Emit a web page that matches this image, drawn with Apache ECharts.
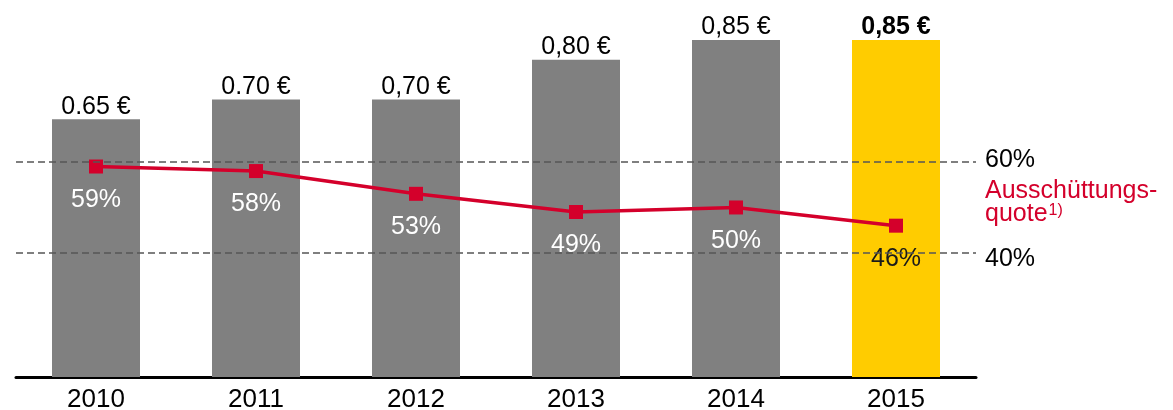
<!DOCTYPE html>
<html>
<head>
<meta charset="utf-8">
<script src="https://cdn.jsdelivr.net/npm/echarts@6/dist/echarts.min.js"></script>
<style>
    html, body { margin: 0; padding: 0; background: #fff; }
    #main { width: 1173px; height: 410px; }
</style>
</head>
<body>
<div id="main"></div>
<script>
// Daten
var years = ['2010', '2011', '2012', '2013', '2014', '2015'];
var dividend = [0.65, 0.70, 0.70, 0.80, 0.85, 0.85];
var dividendText = ['0.65 €', '0.70 €', '0,70 €', '0,80 €', '0,85 €', '0,85 €'];
var payout = [59, 58, 53, 49, 50, 46];
var payoutTicks = [60, 40];

var fontFam = 'Liberation Sans, Arial, sans-serif';
var red = '#d4002b';

var myChart = echarts.init(document.getElementById('main'));

var barData = dividend.map(function (v, i) {
    var last = i === dividend.length - 1;
    return {
        value: v,
        itemStyle: { color: last ? '#ffcc00' : '#808080' },
        label: { fontWeight: last ? 'bold' : 'normal' }
    };
});

var lineData = payout.map(function (v, i) {
    var last = i === payout.length - 1;
    return {
        value: v,
        label: { color: last ? '#1a1a1a' : '#ffffff' }
    };
});

option = {
    animation: false,
    textStyle: { fontFamily: fontFam },
    grid: { left: 16, right: 197, top: 40, bottom: 33, containLabel: false, outerBoundsMode: 'none' },
    xAxis: {
        type: 'category',
        data: years,
        axisLine: { show: true, lineStyle: { color: '#000', width: 3 } },
        axisTick: { show: false },
        axisLabel: { color: '#000', fontSize: 26, margin: 10, fontFamily: fontFam }
    },
    yAxis: [
        {
            type: 'value',
            min: 0,
            max: 0.85,
            show: false
        },
        {
            type: 'value',
            min: 12.75,
            max: 86.8,
            show: false
        }
    ],
    graphic: [
        {
            type: 'text',
            left: 985,
            top: 179,
            style: {
                text: 'Ausschüttungs-\nquote{sup|1)}',
                fill: red,
                font: '25px ' + fontFam,
                lineHeight: 23,
                rich: {
                    sup: { fontSize: 16, fill: red, verticalAlign: 'top', padding: [0, 0, 12, 1] }
                }
            }
        }
    ],
    series: [
        {
            type: 'bar',
            yAxisIndex: 0,
            barWidth: 88,
            data: barData,
            label: {
                show: true,
                position: 'top',
                distance: 0,
                color: '#000',
                fontSize: 25,
                fontFamily: fontFam,
                formatter: function (p) { return dividendText[p.dataIndex]; }
            },
            z: 1
        },
        {
            type: 'line',
            yAxisIndex: 1,
            data: lineData,
            symbol: 'rect',
            symbolSize: 14,
            lineStyle: { color: red, width: 3.5 },
            itemStyle: { color: red },
            label: {
                show: true,
                position: 'bottom',
                distance: 14,
                fontSize: 25,
                fontFamily: fontFam,
                formatter: '{c}%'
            },
            markLine: {
                silent: true,
                symbol: 'none',
                lineStyle: { color: '#555', type: [7, 4], width: 1.5 },
                label: {
                    show: true,
                    position: 'end',
                    distance: 9,
                    color: '#000',
                    fontSize: 25,
                    fontFamily: fontFam,
                    formatter: '{c}%'
                },
                data: [
                    { yAxis: payoutTicks[0], label: { offset: [0, -2] } },
                    { yAxis: payoutTicks[1], label: { offset: [0, 6] } }
                ]
            },
            z: 3
        }
    ]
};

myChart.setOption(option);
</script>
</body>
</html>
